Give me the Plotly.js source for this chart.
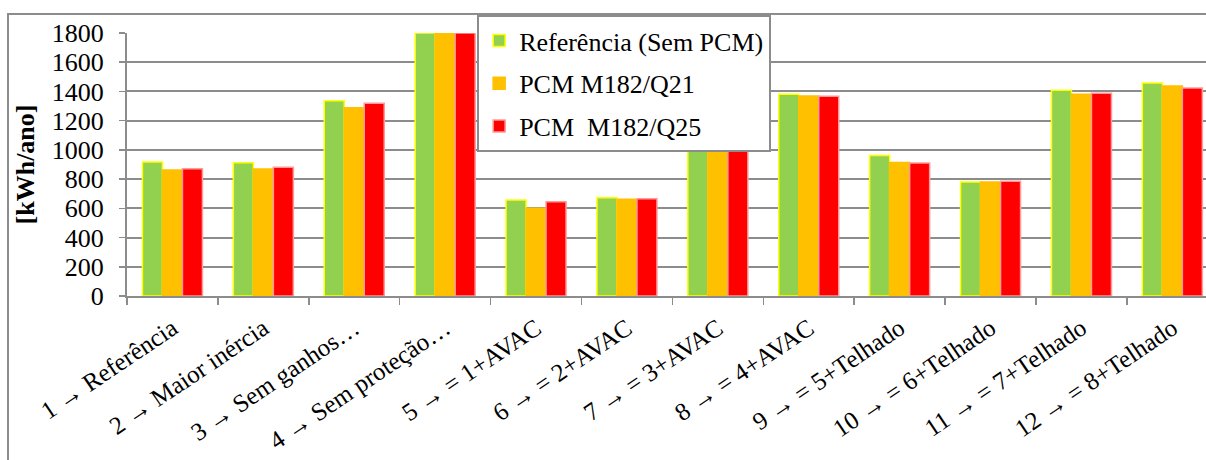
<!DOCTYPE html>
<html>
<head>
<meta charset="utf-8">
<script src="https://cdn.plot.ly/plotly-3.0.1.min.js"></script>
<style>
  html, body { margin: 0; padding: 0; background: #ffffff; overflow: hidden; }
  #frame { position: absolute; left: 7px; top: 13px; width: 1400px; height: 600px; border: 2px solid #8c8c8c; box-sizing: border-box; }
  #chart { position: absolute; left: 0; top: 0; width: 1206px; height: 460px; }
</style>
</head>
<body>
<div id="frame"></div>
<div id="chart"></div>
<script>
const categories = [
  "1 → Referência",
  "2 → Maior inércia",
  "3 → Sem ganhos…",
  "4 → Sem proteção…",
  "5 → = 1+AVAC",
  "6 → = 2+AVAC",
  "7 → = 3+AVAC",
  "8 → = 4+AVAC",
  "9 → = 5+Telhado",
  "10 → = 6+Telhado",
  "11 → = 7+Telhado",
  "12 → = 8+Telhado"
];
const seriesNames = ["Referência (Sem PCM)", "PCM M182/Q21", "PCM  M182/Q25"];
const referencia = [917, 912, 1337, 1800, 657, 673, 1090, 1381, 962, 780, 1408, 1458];
const pcmQ21     = [862, 869, 1289, 1800, 600, 662, 1070, 1369, 914, 780, 1380, 1437];
const pcmQ25     = [871, 881, 1319, 1800, 645, 666, 1075, 1367, 910, 785, 1387, 1424];
const yTicks = [0, 200, 400, 600, 800, 1000, 1200, 1400, 1600, 1800];

const fillColors = ["#92D050", "#FFC000", "#FF0000"];
const lineColors = ["#FFFF00", "#FFC000", "#FF9A9A"];
const values = [referencia, pcmQ21, pcmQ25];

const traces = values.map((v, i) => ({
  type: "bar",
  x: categories,
  y: v,
  name: seriesNames[i],
  legendgroup: "g" + i,
  marker: { color: fillColors[i], line: { color: lineColors[i], width: 1.5 } },
  hoverinfo: "none"
}));

const serif = "Liberation Serif";

const layout = {
  width: 1206,
  height: 460,
  margin: { l: 127, r: 0, t: 33, b: 164 },
  paper_bgcolor: "rgba(0,0,0,0)",
  plot_bgcolor: "rgba(0,0,0,0)",
  barmode: "group",
  bargap: 0.34,
  bargroupgap: 0,
  font: { family: serif, size: 26, color: "#000000" },
  showlegend: true,
  legend: {
    x: 0.3245, y: 1.068, xanchor: "left", yanchor: "top",
    bgcolor: "#ffffff", bordercolor: "#8c8c8c", borderwidth: 2,
    font: { family: serif, size: 26, color: "#000000" },
    traceorder: "grouped", tracegroupgap: 6,
    itemwidth: 30
  },
  xaxis: {
    type: "category",
    range: [-0.5, 11.37],
    tickangle: -34,
    tickson: "boundaries",
    ticks: "outside",
    ticklen: 7,
    tickwidth: 1.5,
    tickcolor: "#8c8c8c",
    showline: true,
    linecolor: "#8c8c8c",
    linewidth: 2,
    showgrid: false,
    ticklabelstandoff: 6,
    tickfont: { family: serif, size: 25, color: "#000000" },
    fixedrange: true
  },
  yaxis: {
    range: [0, 1800],
    tickvals: yTicks,
    ticktext: yTicks.map(String),
    ticks: "outside",
    ticklen: 6,
    tickwidth: 1.5,
    tickcolor: "#8c8c8c",
    showline: true,
    linecolor: "#8c8c8c",
    linewidth: 2,
    showgrid: true,
    gridcolor: "#8c8c8c",
    gridwidth: 2,
    zeroline: false,
    ticklabelstandoff: 10,
    tickfont: { family: serif, size: 26, color: "#000000" },
    title: { text: "<b>[kWh/ano]</b>", font: { family: serif, size: 26, color: "#000000" }, standoff: 10 },
    fixedrange: true
  }
};

Plotly.newPlot("chart", traces, layout, { displayModeBar: false, staticPlot: true });
</script>
</body>
</html>
